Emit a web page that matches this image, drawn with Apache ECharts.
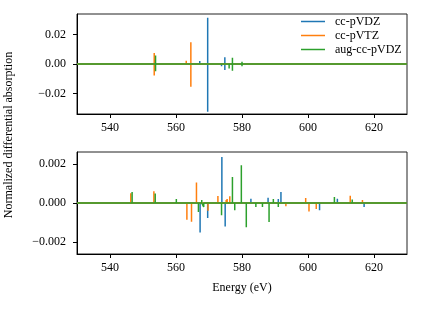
<!DOCTYPE html>
<html>
<head>
<meta charset="utf-8">
<script src="https://cdn.jsdelivr.net/npm/echarts@6/dist/echarts.min.js"></script>
<style>
  html, body { margin: 0; padding: 0; background: #fff; }
  #chart { width: 421px; height: 310px; }
</style>
</head>
<body>
<div id="chart"></div>
<script>
const seriesNames = ['cc-pVDZ', 'cc-pVTZ', 'aug-cc-pVDZ'];
const seriesColors = ['#1f77b4', '#ff7f0e', '#2ca02c'];

const energyRange = [530, 630];
const energyTicks = [540, 560, 580, 600, 620];
const topTicks = [-0.02, 0, 0.02];
const topTickLabels = ['\u22120.02', '0.00', '0.02'];
const bottomTicks = [-0.002, 0, 0.002];
const bottomTickLabels = ['\u22120.002', '0.000', '0.002'];

// top panel sticks: [energy (eV), value]
const topVDZ = [
  [567.2, 0.002], [567.2, -0.0005],
  [569.6, 0.0314], [569.6, -0.0325],
  [573.8, 0.0005], [573.8, -0.0015],
  [574.8, 0.0046], [574.8, -0.004],
  [587.9, 0.0003], [591.8, 0.0005]
];
const topVTZ = [
  [546.4, 0.0008], [546.4, -0.0003],
  [553.4, 0.0075], [553.4, -0.0078],
  [563.1, 0.0022], [563.1, -0.0012],
  [564.5, 0.0148], [564.5, -0.0155],
  [572.7, 0.0005],
  [589.0, 0.0007], [593.5, -0.0007], [600.3, -0.0003]
];
const topAVDZ = [
  [546.7, 0.0008], [546.7, -0.0006],
  [553.8, 0.0057], [553.8, -0.005],
  [557.8, 0.0008], [557.8, -0.0008],
  [558.6, 0.0005], [558.6, -0.0005],
  [559.4, 0.0006], [559.4, -0.0006],
  [566.8, 0.0005], [566.8, -0.0005],
  [568.4, 0.0005], [568.4, -0.0005],
  [576.1, 0.001], [576.1, -0.003],
  [577.1, 0.0043], [577.1, -0.0046],
  [578.5, 0.001], [578.5, -0.001],
  [580.0, 0.0015], [580.0, -0.0015],
  [581.5, 0.001], [581.5, -0.001],
  [608.0, 0.0008]
];

// bottom panel sticks: [energy (eV), value]
const bottomVDZ = [
  [567.3, -0.0015], [569.6, -0.00077], [573.9, 0.00234], [574.9, -0.0012],
  [576.3, -0.0001], [582.7, 0.00022], [587.9, 0.00027], [591.0, 0.0002],
  [591.8, 0.00056], [603.5, -0.00037], [608.9, 0.00022], [617.0, -0.0002]
];
const bottomVTZ = [
  [546.3, 0.0005], [553.3, 0.0006], [563.3, -0.00085], [564.7, -0.00095],
  [566.2, 0.00104], [569.7, -0.0004], [572.7, 0.00036], [575.2, 0.00015],
  [575.5, 0.0002], [576.3, 0.00034], [583.0, -0.0001], [589.2, -0.0001],
  [593.3, -0.00017], [595.5, 0.0001], [595.6, -0.0001], [599.3, 0.00026],
  [600.3, -0.00043], [602.5, -0.0003], [612.8, 0.00037], [616.5, 0.00015],
  [623.6, -0.00005]
];
const bottomAVDZ = [
  [546.7, 0.00056], [553.7, 0.00048], [557.8, -0.0001], [558.6, -0.00008],
  [559.4, -0.0001], [560.1, 0.0002], [562.5, -0.0001], [566.8, -0.00046],
  [567.8, 0.00015], [568.4, -0.0002], [573.8, -0.00063], [577.1, 0.00133],
  [577.8, -0.00037], [579.8, 0.00193], [581.3, -0.00123], [584.2, -0.0002],
  [586.2, -0.0002], [588.2, -0.00097], [589.5, 0.0002], [591.0, -0.0002],
  [603.3, 0.0001], [608.0, 0.0003], [613.4, 0.00018], [617.5, 0.0001],
  [623.1, -0.0001]
];

const font = 'Liberation Serif';

// turn sticks into a line that drops back to zero around each one
function sticks(list) {
  const pts = [[energyRange[0], 0]];
  list.slice().sort((a, b) => a[0] - b[0]).forEach(([e, v]) => {
    pts.push([e, 0], [e, v], [e, 0]);
  });
  pts.push([energyRange[1], 0]);
  return pts;
}

function xAxis(gridIndex, withName) {
  return {
    type: 'value', gridIndex: gridIndex,
    min: energyRange[0], max: energyRange[1],
    splitLine: { show: false },
    axisLine: { show: true, onZero: false, lineStyle: { color: '#000', width: 1 } },
    axisTick: { show: true, length: 4, lineStyle: { color: '#000' }, customValues: energyTicks },
    axisLabel: { color: '#000', fontFamily: font, fontSize: 12, margin: 8, customValues: energyTicks },
    name: withName ? 'Energy (eV)' : '',
    nameLocation: 'middle', nameGap: 28,
    nameTextStyle: { color: '#000', fontFamily: font, fontSize: 12 }
  };
}

function yAxis(gridIndex, lim, ticks, labels) {
  return {
    type: 'value', gridIndex: gridIndex,
    min: -lim, max: lim,
    splitLine: { show: false },
    axisLine: { show: true, onZero: false, lineStyle: { color: '#000', width: 1 } },
    axisTick: { show: true, length: 4, lineStyle: { color: '#000' }, customValues: ticks },
    axisLabel: {
      color: '#000', fontFamily: font, fontSize: 12, margin: 11, customValues: ticks,
      formatter: (v) => labels[ticks.findIndex(t => Math.abs(t - v) < lim * 1e-3)] || ''
    }
  };
}

const topData = [topVDZ, topVTZ, topAVDZ];
const bottomData = [bottomVDZ, bottomVTZ, bottomAVDZ];
const series = [];
[topData, bottomData].forEach((panel, p) => {
  panel.forEach((list, i) => {
    series.push({
      name: seriesNames[i], type: 'line',
      xAxisIndex: p, yAxisIndex: p,
      data: sticks(list),
      showSymbol: false, symbol: 'none',
      lineStyle: { color: seriesColors[i], width: 1.5 },
      itemStyle: { color: seriesColors[i] },
      z: 2 + i
    });
  });
});

const chart = echarts.init(document.getElementById('chart'));
chart.setOption({
  animation: false,
  backgroundColor: '#fff',
  grid: [
    { left: 77, top: 14, width: 330, height: 100, show: true, borderColor: '#222', borderWidth: 1 },
    { left: 77, top: 152, width: 330, height: 102, show: true, borderColor: '#222', borderWidth: 1 }
  ],
  xAxis: [xAxis(0, false), xAxis(1, true)],
  yAxis: [
    yAxis(0, 0.034, topTicks, topTickLabels),
    yAxis(1, 0.0026, bottomTicks, bottomTickLabels)
  ],
  legend: {
    data: seriesNames, orient: 'vertical',
    left: 296, top: 10, itemWidth: 24, itemHeight: 1.5, itemGap: 1,
    icon: 'rect',
    textStyle: { color: '#000', fontFamily: font, fontSize: 12, lineHeight: 13, padding: [0, 0, 0, 5] }
  },
  graphic: [{
    type: 'text', x: 9, y: 135, rotation: Math.PI / 2,
    style: {
      text: 'Normalized differential absorption', fill: '#000',
      font: '12px "Liberation Serif"', textAlign: 'center', textVerticalAlign: 'middle'
    }
  }],
  series: series
});
</script>
</body>
</html>
